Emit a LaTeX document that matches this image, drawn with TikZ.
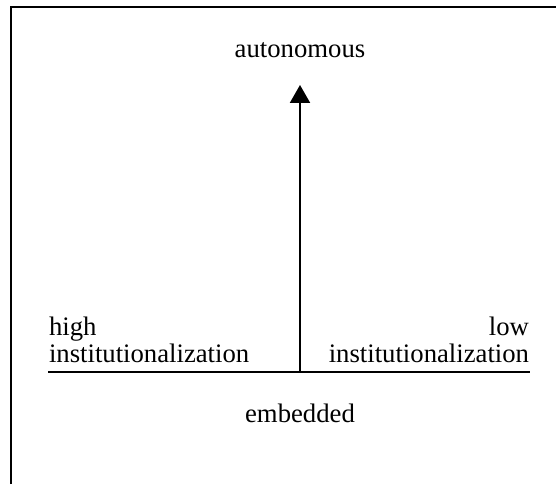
\documentclass[tikz,border=0pt]{standalone}
\usepackage{fontspec}
\setmainfont{Liberation Serif}
\usetikzlibrary{arrows.meta}

\begin{document}
\begin{tikzpicture}[x=1pt,y=-1pt,line width=2pt,
  lbl/.style={font=\fontsize{26.7}{27}\selectfont,inner sep=0pt}]
  \useasboundingbox (0,0) rectangle (556,484);
  % frame (top and left only)
  \draw[line width=2.5pt] (11,484) -- (11,7) -- (556,7);
  % axes
  \coordinate (west) at (48,372);
  \coordinate (east) at (530,372);
  \coordinate (origin) at (300,372);
  \coordinate (top) at (300,85);
  \draw (west) -- (east);
  \draw[-{Triangle[length=18pt,width=20pt]}] (origin) -- (top);
  % labels
  \node[lbl] (auto) at (300,50) {autonomous};
  \node[lbl] (embed) at (300,413) {embedded};
  \node[lbl,above right,align=left] (high) at (48,364) {high\\institutionalization};
  \node[lbl,above left,align=right] (low) at (530,364) {low\\institutionalization};
\end{tikzpicture}
\end{document}
